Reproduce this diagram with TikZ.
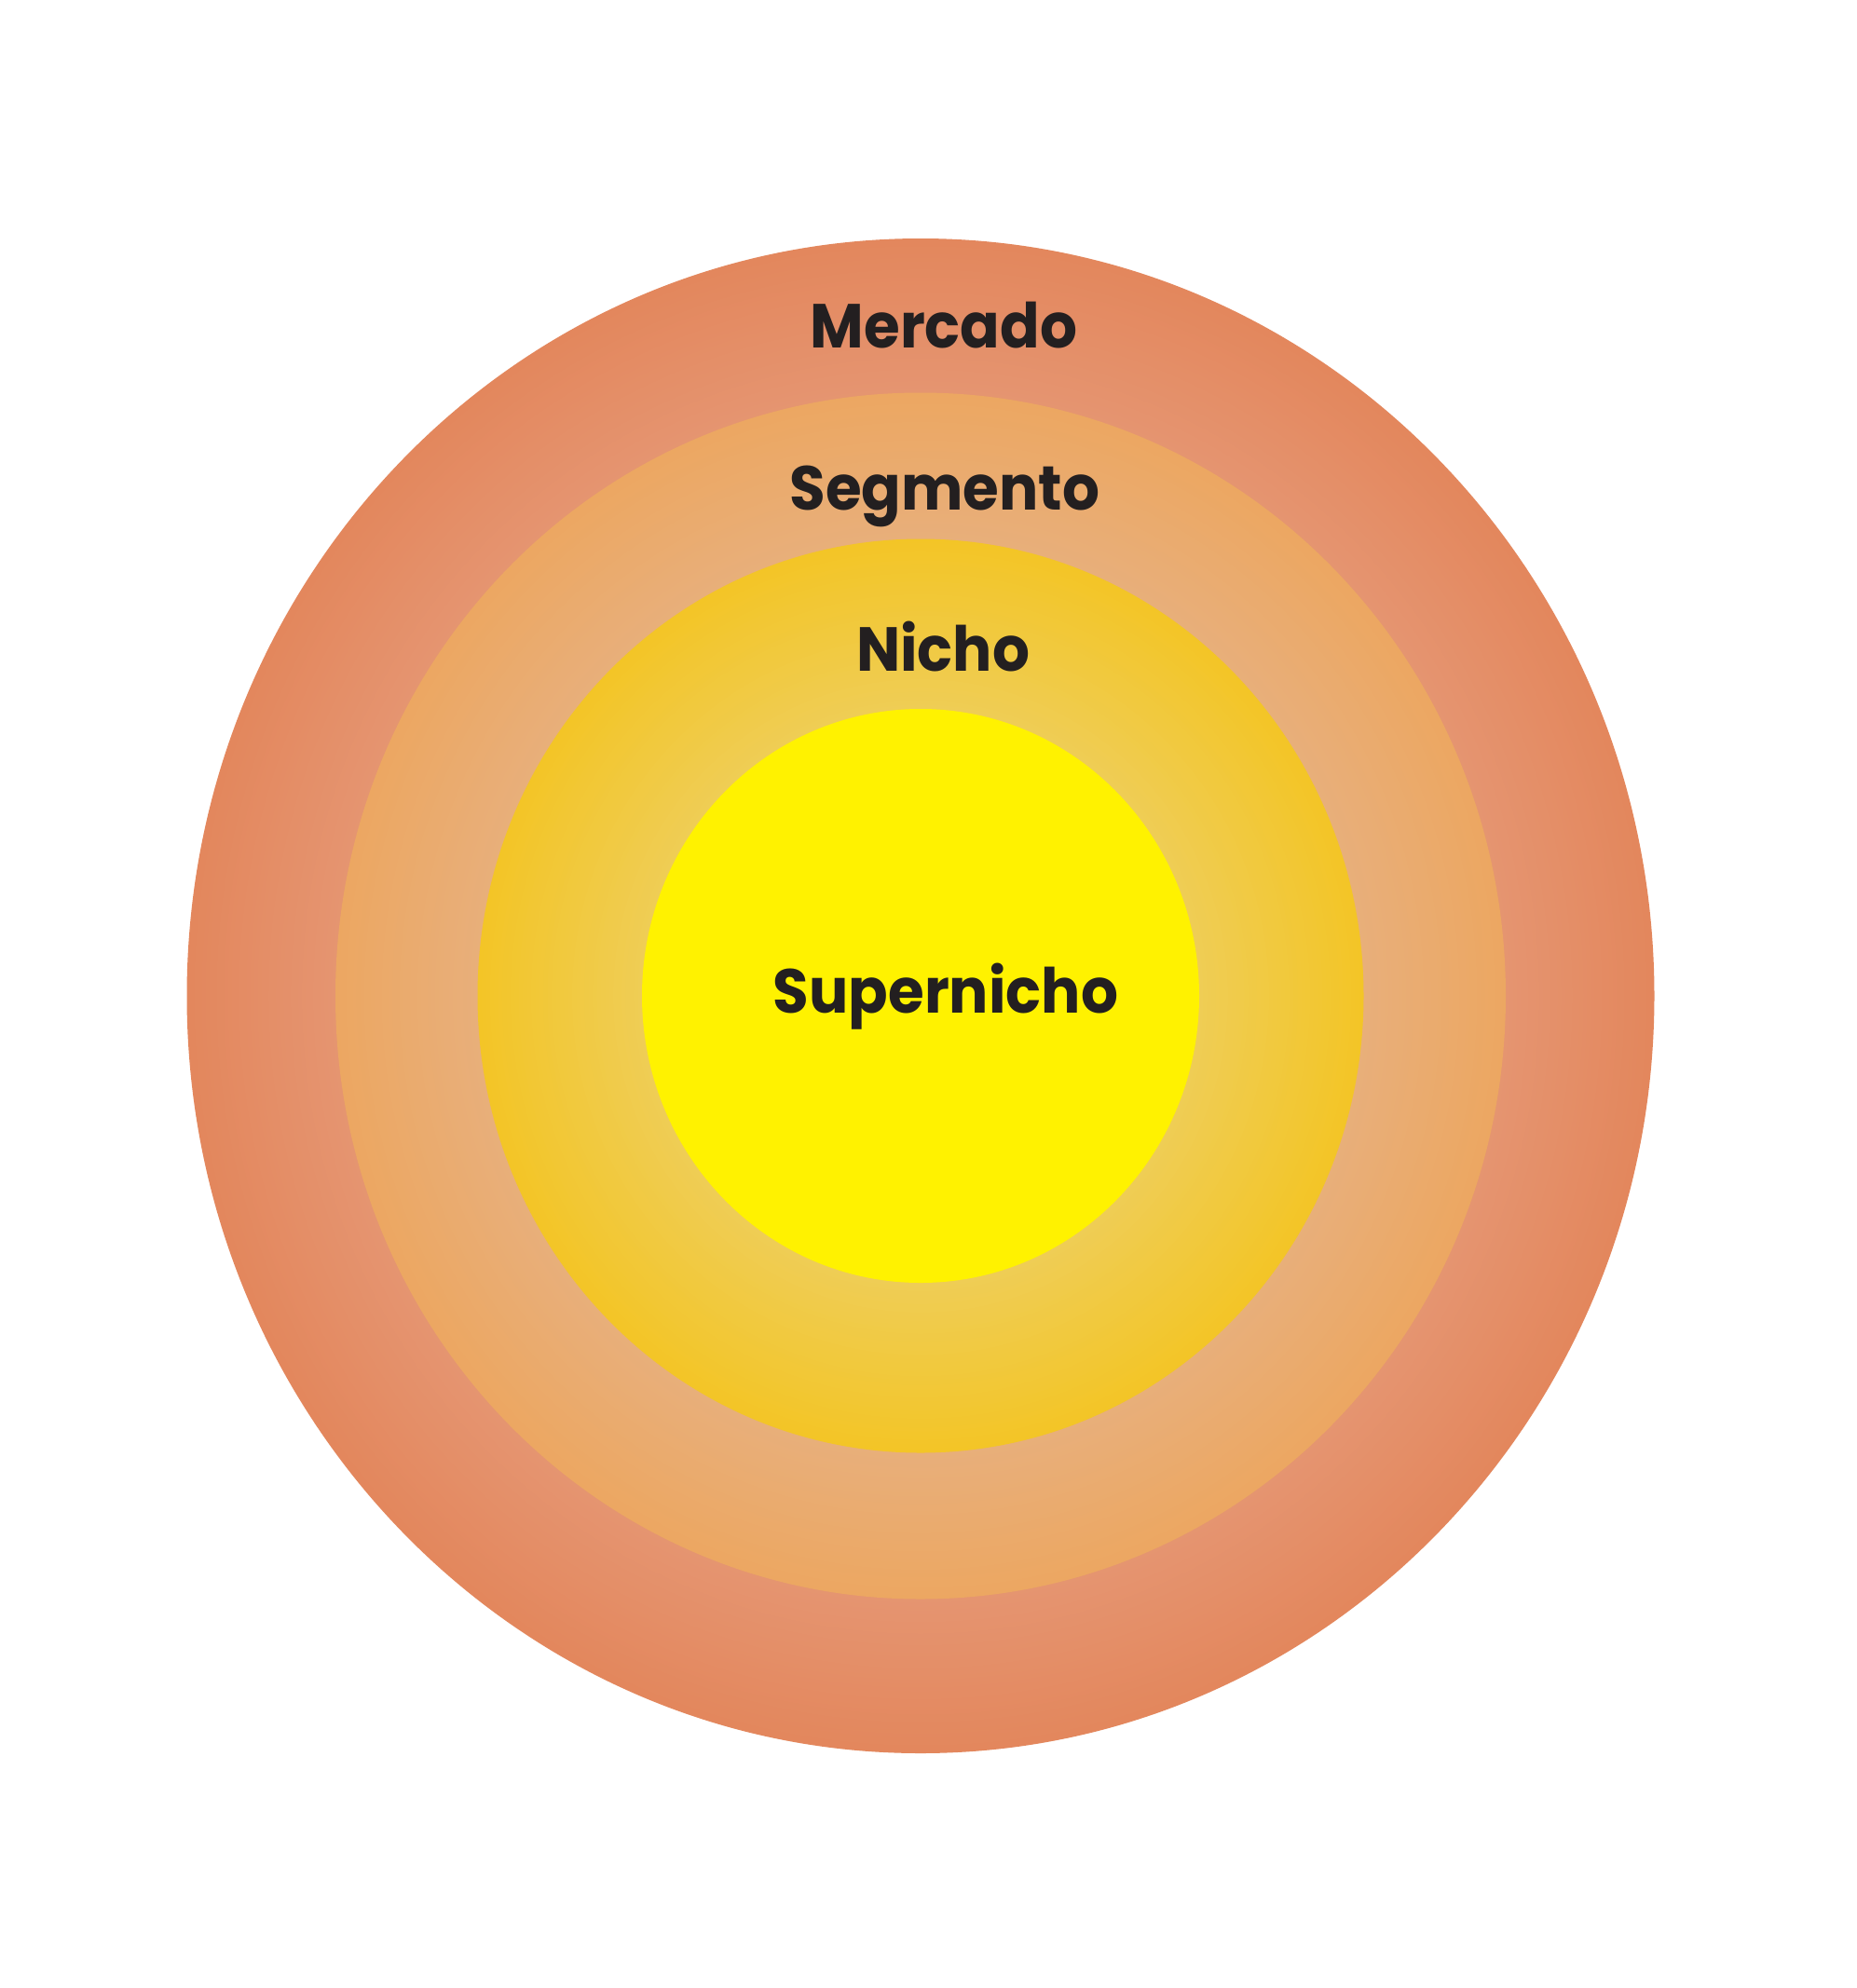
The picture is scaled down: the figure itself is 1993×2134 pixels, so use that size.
\documentclass[tikz,border=0pt]{standalone}
\usepackage{fontspec}
\newfontfamily\labelfont{Poppins}
\definecolor{mercOut}{HTML}{E3875D}
\definecolor{mercIn}{HTML}{E59571}
\definecolor{segOut}{HTML}{ECA762}
\definecolor{segIn}{HTML}{E8AF7B}
\definecolor{nichOut}{HTML}{F3C527}
\definecolor{nichIn}{HTML}{EFCD56}
\definecolor{superFill}{HTML}{FFF200}
\definecolor{labelInk}{HTML}{231F20}
\newcommand\ringfill[6]{%
  \foreach \k in {0,...,39}{%
    \pgfmathsetmacro\tt{\k/40}%
    \pgfmathsetmacro\rrx{#1-\tt*(#1-#3)}%
    \pgfmathsetmacro\rry{#2-\tt*(#2-#4)}%
    \pgfmathtruncatemacro\pct{\tt*100}%
    \fill[color=#6!\pct!#5] (c) ellipse [x radius=\rrx, y radius=\rry];
  }%
}
\tikzset{
  lbl/.style={anchor=base, inner sep=0pt, text=labelInk, font=\labelfont\bfseries\fontsize{38pt}{46pt}\selectfont}
}
\begin{document}
\begin{tikzpicture}[x=0.02cm, y=-0.02cm]
\useasboundingbox (0,0) rectangle (1993,2134);
\fill[white] (0,0) rectangle (1993,2134);
\coordinate (c) at (988,1069);
\ringfill{787.5}{813}{628}{647.5}{mercOut}{mercIn}
\ringfill{628}{647.5}{475.5}{490.5}{segOut}{segIn}
\ringfill{475.5}{490.5}{299}{308}{nichOut}{nichIn}
\fill[superFill] (c) ellipse [x radius=299, y radius=308];
\node[lbl] (mercado) at (1013,373) {\scalebox{0.94}[1]{Mercado}};
\node[lbl] (segmento) at (1014,547) {\scalebox{0.94}[1]{Segmento}};
\node[lbl] (nicho) at (1012,720) {\scalebox{0.94}[1]{Nicho}};
\node[lbl] (supernicho) at (1015,1087) {\scalebox{0.94}[1]{Supernicho}};
\end{tikzpicture}
\end{document}
